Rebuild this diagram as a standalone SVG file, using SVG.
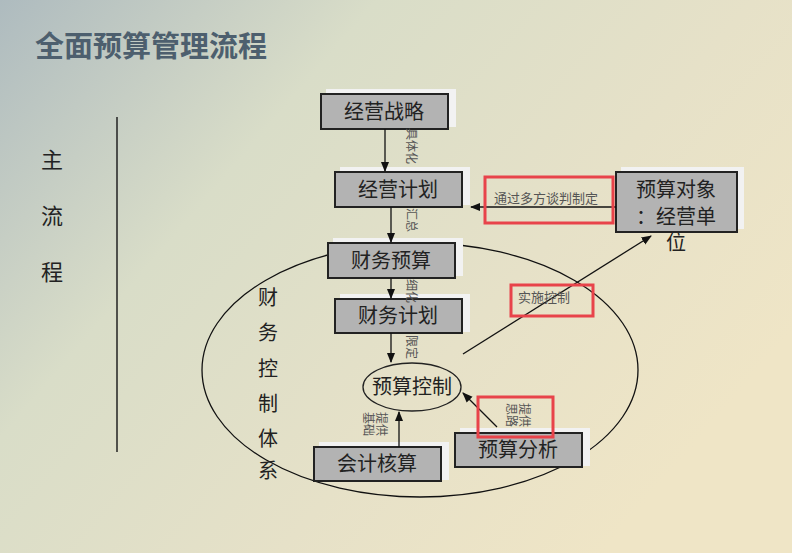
<svg xmlns="http://www.w3.org/2000/svg" width="792" height="553" viewBox="0 0 792 553">
<defs>
<linearGradient id="bg" x1="0" y1="0" x2="1" y2="0.6">
<stop offset="0" stop-color="#aebbbf"/><stop offset="0.35" stop-color="#d9ddc8"/><stop offset="0.7" stop-color="#e6e1c8"/><stop offset="1" stop-color="#efe5c6"/>
</linearGradient>
<marker id="ah" viewBox="0 0 10 10" refX="9" refY="5" markerWidth="8" markerHeight="8" orient="auto"><path d="M0,1 L10,5 L0,9 z" fill="#111"/></marker>
<style>
.box{fill:#b3b3b3;stroke:#222;stroke-width:2}
.sh{fill:#f2f2f2}
.t{font-family:"Liberation Serif","Noto Sans CJK SC",serif;fill:#222;font-size:20px;text-anchor:middle}
.s{font-family:"Liberation Serif","Noto Sans CJK SC",serif;fill:#555;font-size:12px}
.c{stroke:#111;stroke-width:1.3;fill:none}
.red{fill:none;stroke:#e8434a;stroke-width:3}
</style>
</defs>
<rect width="792" height="553" fill="url(#bg)"/>
<text x="35" y="57" font-family="Noto Sans CJK SC,sans-serif" font-weight="bold" font-size="29" fill="#4d5f6e">全面预算管理流程</text>
<g id="main-flow-label" font-family="Noto Sans CJK SC,serif" font-size="22" fill="#222" text-anchor="middle">
<text x="52" y="168">主</text><text x="52" y="224">流</text><text x="52" y="280">程</text>
</g>
<line x1="117" y1="117" x2="117" y2="452" stroke="#222" stroke-width="1.5"/>
<g id="system">
<ellipse cx="420" cy="370" rx="218" ry="127" class="c"/>
<g class="t" font-size="20">
<text x="268" y="305">财</text><text x="268" y="340">务</text><text x="268" y="376">控</text><text x="268" y="411">制</text><text x="268" y="446">体</text><text x="268" y="478">系</text>
</g>
</g>
<g id="n1"><rect class="sh" x="326" y="89" width="130" height="38"/><rect class="box" x="321" y="94" width="127" height="35"/><text class="t" x="384" y="119">经营战略</text></g>
<g id="n2"><rect class="sh" x="340" y="167" width="130" height="38"/><rect class="box" x="335" y="172" width="127" height="35"/><text class="t" x="398" y="197">经营计划</text></g>
<g id="n3"><rect class="sh" x="333" y="238" width="130" height="38"/><rect class="box" x="328" y="243" width="127" height="35"/><text class="t" x="391" y="268">财务预算</text></g>
<g id="n4"><rect class="sh" x="340" y="294" width="130" height="38"/><rect class="box" x="335" y="299" width="127" height="34"/><text class="t" x="398" y="323">财务计划</text></g>
<g id="n5"><ellipse cx="412" cy="387" rx="49" ry="24" fill="none" stroke="#222" stroke-width="1.3"/><text class="t" x="412" y="394">预算控制</text></g>
<g id="n6"><rect class="sh" x="319" y="442" width="130" height="38"/><rect class="box" x="314" y="447" width="127" height="34"/><text class="t" x="377" y="471">会计核算</text></g>
<g id="n7"><rect class="sh" x="460" y="428" width="130" height="38"/><rect class="box" x="455" y="433" width="127" height="34"/><text class="t" x="518" y="457">预算分析</text></g>
<g id="n8"><rect class="sh" x="621" y="167" width="123" height="62"/><rect class="box" x="616" y="172" width="121" height="60"/><text class="t" x="676" y="197">预算对象</text><text class="t" x="676" y="224">：经营单</text><text class="t" x="676" y="250">位</text></g>
<g id="connectors">
<line class="c" x1="385" y1="129" x2="385" y2="171" marker-end="url(#ah)"/>
<line class="c" x1="391" y1="207" x2="391" y2="242" marker-end="url(#ah)"/>
<line class="c" x1="391" y1="278" x2="391" y2="298" marker-end="url(#ah)"/>
<line class="c" x1="391" y1="333" x2="391" y2="362" marker-end="url(#ah)"/>
<line class="c" x1="399" y1="447" x2="399" y2="412" marker-end="url(#ah)"/>
<line class="c" x1="497" y1="427" x2="463" y2="393" marker-end="url(#ah)"/>
<line class="c" x1="616" y1="207" x2="471" y2="207" marker-end="url(#ah)"/>
<line class="c" x1="463" y1="354" x2="651" y2="236" marker-end="url(#ah)"/>
</g>
<g id="labels" class="s">
<text transform="translate(407,128) rotate(90)">具体化</text>
<text transform="translate(407,208) rotate(90)">汇总</text>
<text transform="translate(407,279) rotate(90)">细化</text>
<text transform="translate(407,335) rotate(90)">限定</text>
<text transform="translate(377,412) rotate(90)">提供</text>
<text transform="translate(364,412) rotate(90)">基础</text>
<text transform="translate(520,403) rotate(90)">提供</text>
<text transform="translate(507,403) rotate(90)">思路</text>
<text x="494" y="203" font-size="13">通过多方谈判制定</text>
<text x="518" y="302" font-size="13">实施控制</text>
</g>
<g id="highlights">
<rect class="red" x="485" y="177" width="128" height="46"/>
<rect class="red" x="511" y="285" width="82" height="31"/>
<rect class="red" x="478" y="397" width="75" height="40"/>
</g>
</svg>
